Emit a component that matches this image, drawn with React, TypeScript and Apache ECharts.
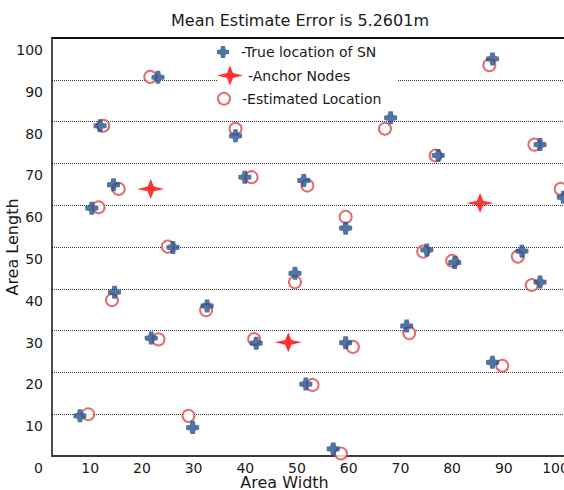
import React, { useEffect, useRef } from 'react';
import * as echarts from 'echarts';

const titleText = 'Mean Estimate Error is 5.2601m';
const xAxisName = 'Area Width';
const yAxisName = 'Area Length';
const legendNames = ['-True location of SN', '-Anchor Nodes', '-Estimated Location'];

const trueX = [85.2, 20.5, 9.3, 35.5, 65.5, 74.7, 94.4, 37.3, 48.7, 11.9, 7.7, 98.9, 56.8, 23.4, 72.5, 77.9, 90.9, 94.4, 47.0, 12.1, 30.0, 68.6, 19.2, 39.5, 56.8, 85.2, 49.1, 5.4, 27.2, 54.4];
const trueY = [95.0, 90.6, 79.0, 76.6, 80.9, 71.9, 74.5, 66.7, 65.9, 64.9, 59.3, 61.9, 54.5, 49.9, 49.3, 46.3, 49.0, 41.6, 43.7, 39.2, 35.9, 31.1, 28.2, 27.0, 27.1, 22.4, 17.2, 9.6, 6.8, 1.7];
const estX = [84.6, 19.0, 9.9, 35.5, 64.4, 74.2, 93.3, 38.6, 49.4, 12.9, 9.0, 98.4, 56.8, 22.4, 71.8, 77.4, 90.1, 92.8, 47.0, 11.6, 29.8, 69.1, 20.6, 39.1, 58.2, 87.1, 50.4, 7.0, 26.4, 55.9];
const estY = [93.5, 90.7, 79.0, 78.3, 78.3, 71.9, 74.5, 66.7, 64.7, 63.9, 59.5, 63.9, 57.2, 50.1, 48.9, 46.7, 47.7, 40.9, 41.6, 37.3, 34.9, 29.4, 27.9, 28.0, 26.1, 21.6, 17.0, 10.0, 9.6, 0.6];
const anchorX = [19.1, 45.7, 82.8];
const anchorY = [63.9, 27.2, 60.5];

const FONT = 'DejaVu Sans';
const TXT = '#1a1a1a';
const CROSS_PATH = 'path://M4 0 H8 L8.6 3.4 L12 4 V8 L8.6 8.6 L8 12 H4 L3.4 8.6 L0 8 V4 L3.4 3.4 Z';
const STAR_PATH = 'path://M0 10 L10 7.6 L13 0 L16 7.6 L26 10 L16 12.4 L13 20 L10 12.4 Z';

const zip = (xs: number[], ys: number[]) => xs.map((x, i) => [x, ys[i]]);

export default function App() {
  const ref = useRef<HTMLDivElement>(null);
  useEffect(() => {
    if (!ref.current) return;
    const chart = echarts.init(ref.current, null, { renderer: 'svg' });
    const legendBase = {
      orient: 'vertical',
      left: 217,
      padding: 0,
      itemWidth: 26,
      selectedMode: false,
      textStyle: { fontFamily: FONT, fontSize: 14, color: TXT, lineHeight: 16 },
    };
    chart.setOption({
      animation: false,
      backgroundColor: '#fff',
      title: {
        text: titleText,
        left: 300,
        top: 12,
        textAlign: 'center',
        padding: 0,
        textStyle: { fontFamily: FONT, fontSize: 16, fontWeight: 'normal', color: TXT },
      },
      graphic: [
        { type: 'rect', z: 1, shape: { x: 217, y: 40, width: 180, height: 70 }, style: { fill: '#fff' } },
      ],
      legend: [
        { ...legendBase, top: 44, itemHeight: 12, data: [legendNames[0]] },
        { ...legendBase, top: 65.5, itemHeight: 20, data: [legendNames[1]] },
        { ...legendBase, top: 90.7, itemHeight: 12, data: [legendNames[2]] },
      ],
      grid: { left: 52, right: -5, top: 38, bottom: 34, containLabel: false, outerBoundsMode: 'none' },
      xAxis: [
        {
          type: 'value',
          min: 0,
          max: 100,
          interval: 10,
          position: 'bottom',
          axisLine: { show: true, lineStyle: { color: '#3a3a3a', width: 2 } },
          axisTick: { show: false },
          axisLabel: { fontFamily: FONT, fontSize: 14, color: TXT, margin: 5, padding: [0, 27, 0, 0] },
          splitLine: { show: false },
          name: xAxisName,
          nameLocation: 'middle',
          nameGap: 18.5,
          nameMoveOverlap: false,
          nameTextStyle: { fontFamily: FONT, fontSize: 16, color: TXT, padding: [0, 52, 0, 0] },
        },
        {
          type: 'value',
          min: 0,
          max: 100,
          interval: 10,
          position: 'top',
          axisLine: { show: true, lineStyle: { color: '#111', width: 2 } },
          axisTick: { show: false },
          axisLabel: { show: false },
          splitLine: { show: false },
        },
      ],
      yAxis: {
        type: 'value',
        min: 0,
        max: 100,
        interval: 10,
        axisLine: { show: true, lineStyle: { color: '#111', width: 1.5 } },
        axisTick: { show: false },
        axisLabel: {
          fontFamily: FONT,
          fontSize: 14,
          color: TXT,
          margin: 9,
          showMinLabel: false,
          verticalAlign: 'top',
          lineHeight: 24,
        },
        splitLine: {
          show: true,
          showMinLine: false,
          showMaxLine: false,
          lineStyle: { type: [1, 1], color: '#333', width: 1 },
        },
        name: yAxisName,
        nameLocation: 'middle',
        nameGap: 31.5,
        nameMoveOverlap: false,
        nameTextStyle: { fontFamily: FONT, fontSize: 16, color: TXT },
      },
      series: [
        {
          name: legendNames[2],
          type: 'scatter',
          z: 3,
          symbol: 'emptyCircle',
          symbolSize: 12,
          itemStyle: { color: '#d94a4a', borderColor: '#d94a4a', borderWidth: 1.3 },
          data: zip(estX, estY),
        },
        {
          name: legendNames[0],
          type: 'scatter',
          z: 4,
          symbol: CROSS_PATH,
          symbolSize: 13,
          itemStyle: { color: '#24518c' },
          data: zip(trueX, trueY),
        },
        {
          name: legendNames[1],
          type: 'scatter',
          z: 4,
          symbol: STAR_PATH,
          symbolSize: [27, 20],
          itemStyle: { color: '#ff0000' },
          data: zip(anchorX, anchorY),
        },
      ],
    });
    return () => chart.dispose();
  }, []);
  return <div ref={ref} style={{ position: 'fixed', left: 0, top: 0, width: 564, height: 490 }} />;
}
